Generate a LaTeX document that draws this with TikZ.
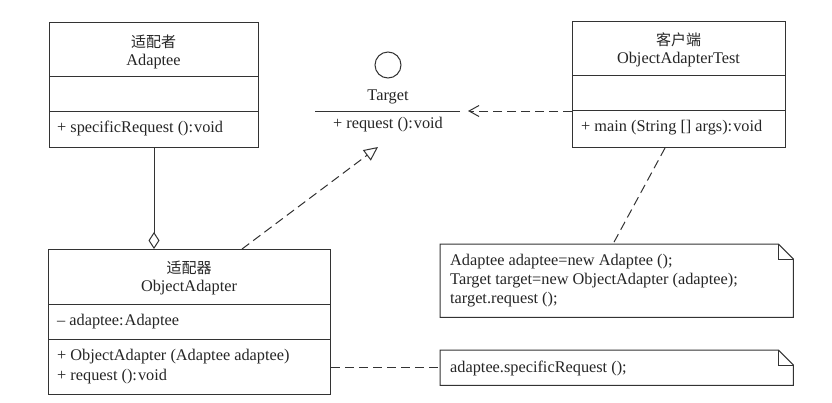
\documentclass[tikz,border=0pt]{standalone}
\usepackage{fontspec}
\setmainfont{Liberation Serif}
\newfontfamily\cjk{Noto Sans CJK SC}
\usetikzlibrary{arrows.meta}
\begin{document}
\begin{tikzpicture}[x=1pt,y=-1pt,
  ln/.style={draw=black!80, line width=1pt},
  box/.style={ln, fill=white, inner sep=0pt, anchor=north west},
  txt/.style={text=black!85, inner sep=0pt, font=\fontsize{16.3}{18}\selectfont},
  ltxt/.style={txt, anchor=west},
  dsh/.style={ln, dash pattern=on 9pt off 5pt},
]
\useasboundingbox[fill=white] (0,0) rectangle (832,402);

% Adaptee
\node[box, minimum width=209pt, minimum height=125pt] (adaptee) at (49,22) {};
\draw[ln] (adaptee.west |- 0,76) -- (adaptee.east |- 0,76);
\draw[ln] (adaptee.west |- 0,111) -- (adaptee.east |- 0,111);
\node[txt] (adapteeCn) at (153.5,42) {\cjk\fontsize{15}{17}\selectfont 适配者};
\node[txt] (adapteeNm) at (153.5,62) {Adaptee};
\node[ltxt] (adapteeOp) at (57,128) {+ specificRequest ():\kern1pt void};

% Client
\node[box, minimum width=213pt, minimum height=126pt] (client) at (572,21) {};
\draw[ln] (client.west |- 0,75) -- (client.east |- 0,75);
\draw[ln] (client.west |- 0,110) -- (client.east |- 0,110);
\node[txt] (clientCn) at (678.5,40) {\cjk\fontsize{15}{17}\selectfont 客户端};
\node[txt] (clientNm) at (678.5,60) {ObjectAdapterTest};
\node[ltxt] (clientOp) at (581,128) {+ main (String [] args):\kern1pt void};

% Target interface
\node[ln, circle, minimum size=26pt, inner sep=0pt] (tcirc) at (388,65) {};
\node[txt] (tname) at (388,97) {Target};
\coordinate (tl) at (315,111);
\coordinate (tr) at (460,111);
\draw[ln] (tl) -- (tr);
\node[txt] (treq) at (388,125) {+ request ():\kern1pt void};
\coordinate (tarr) at (468,111);
\coordinate (ttri) at (378,147);

% ObjectAdapter
\node[box, minimum width=282pt, minimum height=145pt] (oa) at (48,249) {};
\draw[ln] (oa.west |- 0,304) -- (oa.east |- 0,304);
\draw[ln] (oa.west |- 0,339) -- (oa.east |- 0,339);
\node[txt] (oaCn) at (189,268) {\cjk\fontsize{15}{17}\selectfont 适配器};
\node[txt] (oaNm) at (189,288) {ObjectAdapter};
\node[ltxt] (oaAt) at (57,322) {\textendash\ adaptee:\kern1pt Adaptee};
\node[ltxt] (oaOp1) at (57,357) {+ ObjectAdapter (Adaptee adaptee)};
\node[ltxt] (oaOp2) at (57,377) {+ request ():\kern1pt void};

% Notes
\node[inner sep=0pt, anchor=north west, minimum width=353pt, minimum height=73pt] (n1) at (440,244) {};
\draw[ln] (n1.north west) -- ([xshift=-15pt]n1.north east) -- ([yshift=-15pt]n1.north east) -- (n1.south east) -- (n1.south west) -- cycle;
\draw[ln] ([xshift=-15pt]n1.north east) -- ([xshift=-15pt,yshift=-15pt]n1.north east) -- ([yshift=-15pt]n1.north east);
\node[ltxt] (n1a) at (450,262) {Adaptee adaptee=new Adaptee ();};
\node[ltxt] (n1b) at (450,281) {Target target=new ObjectAdapter (adaptee);};
\node[ltxt] (n1c) at (450,300) {target.request ();};

\node[inner sep=0pt, anchor=north west, minimum width=353pt, minimum height=35pt] (n2) at (440,350) {};
\draw[ln] (n2.north west) -- ([xshift=-15pt]n2.north east) -- ([yshift=-15pt]n2.north east) -- (n2.south east) -- (n2.south west) -- cycle;
\draw[ln] ([xshift=-15pt]n2.north east) -- ([xshift=-15pt,yshift=-15pt]n2.north east) -- ([yshift=-15pt]n2.north east);
\node[ltxt] (n2a) at (450,368) {adaptee.specificRequest ();};

% Connectors
\draw[ln, -{Diamond[open, length=17pt, width=11pt]}] (adaptee.south) -- (adaptee.south |- oa.north);
\draw[dsh, -{Triangle[open, length=14pt, width=13pt]}] (242,0 |- oa.north) -- (ttri);
\draw[dsh, -{Straight Barb[length=10pt, width=11pt]}] (client.west |- 0,111) -- (tarr);
\draw[dsh] (665,0 |- client.south) -- (613,0 |- n1.north);
\draw[dsh] (oa.east |- n2.west) -- (n2.west);
\end{tikzpicture}
\end{document}
